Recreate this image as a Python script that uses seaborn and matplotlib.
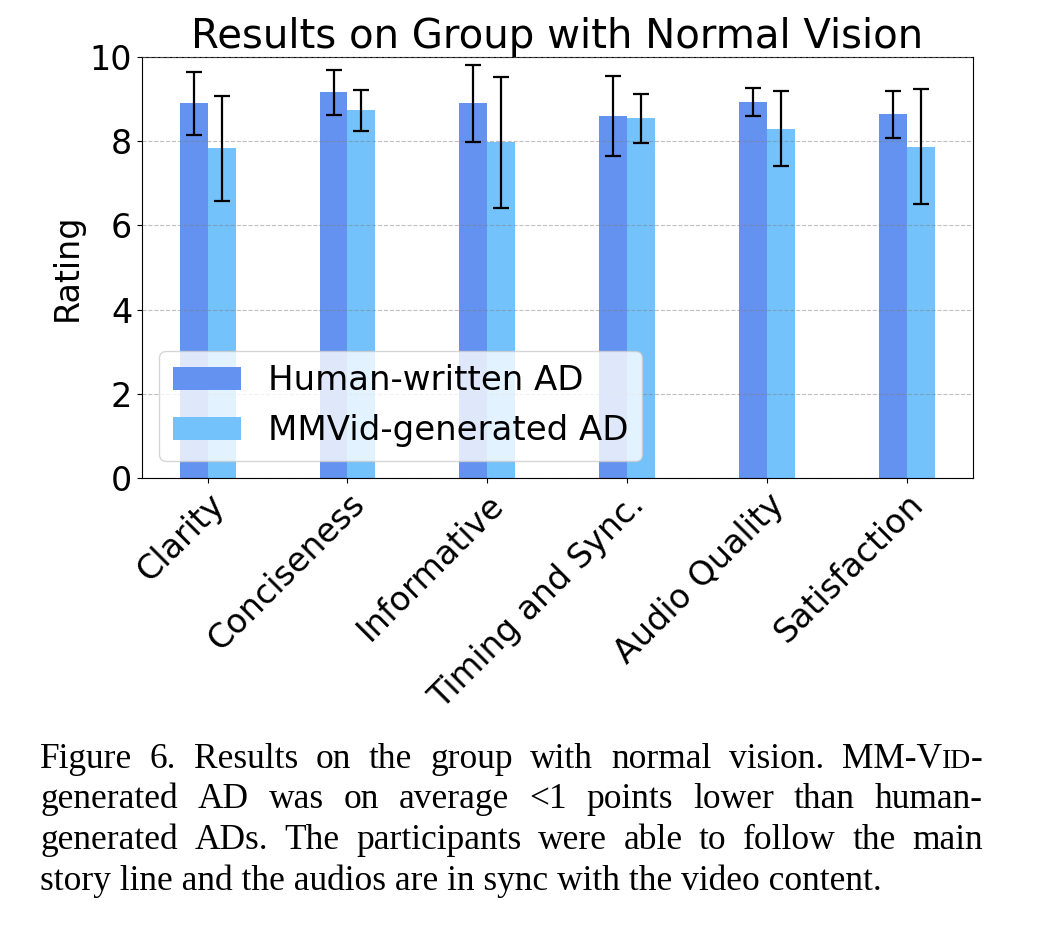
import numpy as np
import pandas as pd
import matplotlib
matplotlib.use("Agg")
import matplotlib.pyplot as plt
import seaborn as sns

categories = ["Clarity", "Conciseness", "Informative", "Timing and Sync.",
              "Audio Quality", "Satisfaction"]
groups = ["Human-written AD", "MMVid-generated AD"]
human_mean = [8.90, 9.16, 8.90, 8.60, 8.94, 8.64]
human_err = [0.75, 0.54, 0.91, 0.96, 0.33, 0.56]
mmvid_mean = [7.83, 8.73, 7.97, 8.54, 8.30, 7.87]
mmvid_err = [1.25, 0.49, 1.55, 0.59, 0.90, 1.36]

caption_lines = [
    ["Figure", "6.", "Results", "on", "the", "group", "with", "normal", "vision.",
     [("MM-V", 1.0), ("ID", 0.78), ("-", 1.0)]],
    ["generated", "AD", "was", "on", "average", "<1", "points", "lower", "than", "human-"],
    ["generated", "ADs.", "The", "participants", "were", "able", "to", "follow", "the", "main"],
    ["story line and the audios are in sync with the video content."],
]

df = pd.DataFrame({
    "category": categories * 2,
    "group": [groups[0]] * 6 + [groups[1]] * 6,
    "rating": human_mean + mmvid_mean,
})
errs = {groups[0]: human_err, groups[1]: mmvid_err}

sns.set_style("ticks")
plt.rcParams["font.family"] = ["DejaVu Sans"]
for k in ["text.color", "axes.labelcolor", "xtick.color", "ytick.color", "axes.edgecolor"]:
    plt.rcParams[k] = "black"

fig = plt.figure(figsize=(10.51, 9.44), dpi=100)
ax = fig.add_axes([0.135, 0.4936, 0.7905, 0.446])

sns.barplot(data=df, x="category", y="rating", hue="group", width=0.4,
            palette=["#6492F0", "#73C2FB"], saturation=1, errorbar=None,
            linewidth=0, ax=ax)

# error bars at the bar centres
for cont, g in zip(ax.containers, groups):
    xs = [b.get_x() + b.get_width() / 2 for b in cont]
    ys = [b.get_height() for b in cont]
    ax.errorbar(xs, ys, yerr=errs[g], fmt="none", ecolor="black",
                elinewidth=1.6, capsize=5.5, capthick=1.6, zorder=5)

ax.set_ylim(0, 10)
ax.set_yticks([0, 2, 4, 6, 8, 10])
ax.yaxis.grid(True, linestyle="--", color="gray", alpha=0.5, linewidth=0.8)
ax.set_axisbelow(False)
ax.set_title("Results on Group with Normal Vision", fontsize=29)
ax.set_ylabel("Rating", fontsize=24)
ax.set_xlabel("")
ax.tick_params(axis="both", labelsize=24)
plt.setp(ax.get_xticklabels(), rotation=45, ha="right", rotation_mode="anchor")
ax.legend(loc="lower left", fontsize=24.5, handlelength=2.0, framealpha=0.8)

# justified caption underneath
fig.canvas.draw()
rend = fig.canvas.get_renderer()
W = fig.bbox.width
left, right = 40 / W, 983 / W
base = 25.5
y0, dy = 1 - 768 / 944, 40.5 / 944


def make_word(parts, y):
    if isinstance(parts, str):
        parts = [(parts, 1.0)]
    texts = []
    for txt, sc in parts:
        t = fig.text(0, y, txt, fontsize=base * sc, family="Liberation Serif",
                     va="baseline", ha="left")
        texts.append(t)
    widths = [t.get_window_extent(rend).width / W for t in texts]
    return texts, widths


for i, line in enumerate(caption_lines):
    y = y0 - i * dy
    words = [make_word(w, y) for w in line]
    total = sum(sum(wd) for _, wd in words)
    gap = (right - left - total) / (len(words) - 1) if len(words) > 1 else 0
    x = left
    for texts, widths in words:
        for t, wd in zip(texts, widths):
            t.set_x(x)
            x += wd
        x += gap

fig.savefig("out.png", dpi=100)
